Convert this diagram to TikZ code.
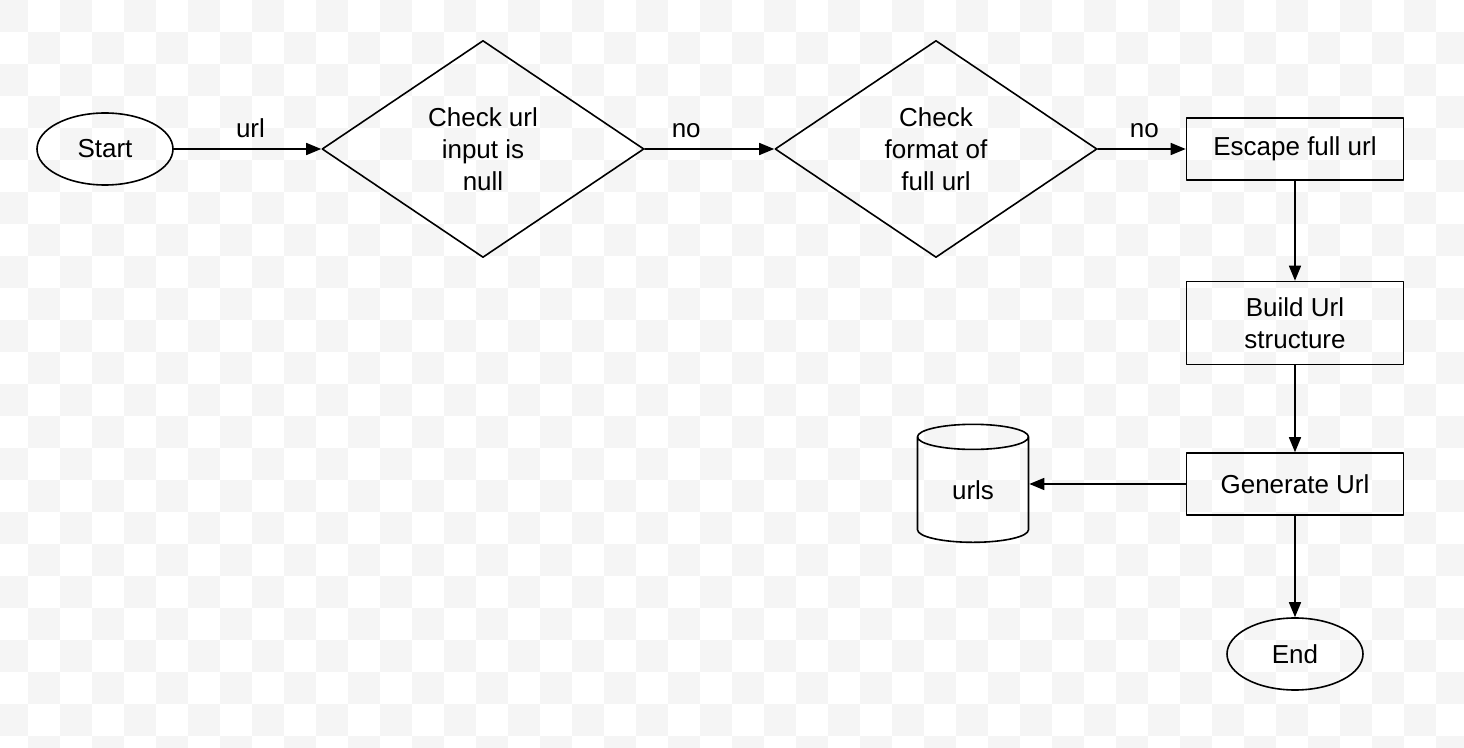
\documentclass[tikz,border=0pt]{standalone}
\usepackage{fontspec}
\setmainfont{Liberation Sans}
\usepackage{pgf,tikz}
\usetikzlibrary{shapes.geometric}
\usetikzlibrary{arrows.meta}
\definecolor{checker}{HTML}{F5F5F5}

\begin{document}
\begin{tikzpicture}[line cap=round,line join=round,>={Triangle[length=7.5pt,width=6pt]},x=0.5pt,y=-0.5pt,
  every node/.style={font=\fontsize{13pt}{16pt}\selectfont},
  term/.style={draw,line width=0.8pt,ellipse,minimum width=68pt,minimum height=36pt,inner sep=0pt},
  decision/.style={draw,line width=0.8pt,diamond,aspect=1.48,minimum width=161pt,minimum height=108.5pt,inner sep=0pt,align=center},
  process/.style={draw,line width=0.8pt,rectangle,minimum width=108.5pt,minimum height=31pt,inner sep=0pt,align=center},
  store/.style={draw,line width=0.8pt,cylinder,shape border rotate=90,aspect=0.6,minimum width=55.5pt,minimum height=59pt,inner sep=0pt},
  flow/.style={->,line width=0.8pt},
  lbl/.style={above=5pt,inner sep=0pt}]
\useasboundingbox (0,0) rectangle (1464,748);
% transparent background squares
\fill[white] (0,0) rectangle (1464,748);
\begin{scope}
\clip (0,0) rectangle (1464,748);
\foreach \i in {0,2,...,44} \foreach \j in {0,2,...,22} \fill[checker] (-3.7+32*\i,-0.3+32*\j) rectangle ++(32,32);
\foreach \i in {1,3,...,45} \foreach \j in {1,3,...,23} \fill[checker] (-3.7+32*\i,-0.3+32*\j) rectangle ++(32,32);
\end{scope}

\node[term] (start) at (105,149) {Start};
\node[decision] (chknull) at (483,149) {Check url\\input is\\null};
\node[decision] (chkfmt) at (936,149) {Check\\format of\\full url};
\node[process] (escape) at (1295,149) {Escape full url};
\node[process,minimum height=41.5pt] (build) at (1295,323) {Build Url\\structure};
\node[process] (generate) at (1295,484) {Generate Url};%gen
\node[store] (urls) at (973,490) {\raisebox{-3pt}{urls}};%db
\node[term] (end) at (1295,654) {End};

\draw[flow] (start) -- node[lbl,pos=0.52] {url} (chknull);
\draw[flow] (chknull) -- node[lbl,pos=0.32] {no} (chkfmt);
\draw[flow] (chkfmt) -- node[lbl,pos=0.53] {no} (escape);
\draw[flow] (escape) -- (build);
\draw[flow] (build) -- (generate);
\draw[flow] (generate.west) -- (generate.west -| urls.east);
\draw[flow] (generate) -- (end);
\end{tikzpicture}
\end{document}
